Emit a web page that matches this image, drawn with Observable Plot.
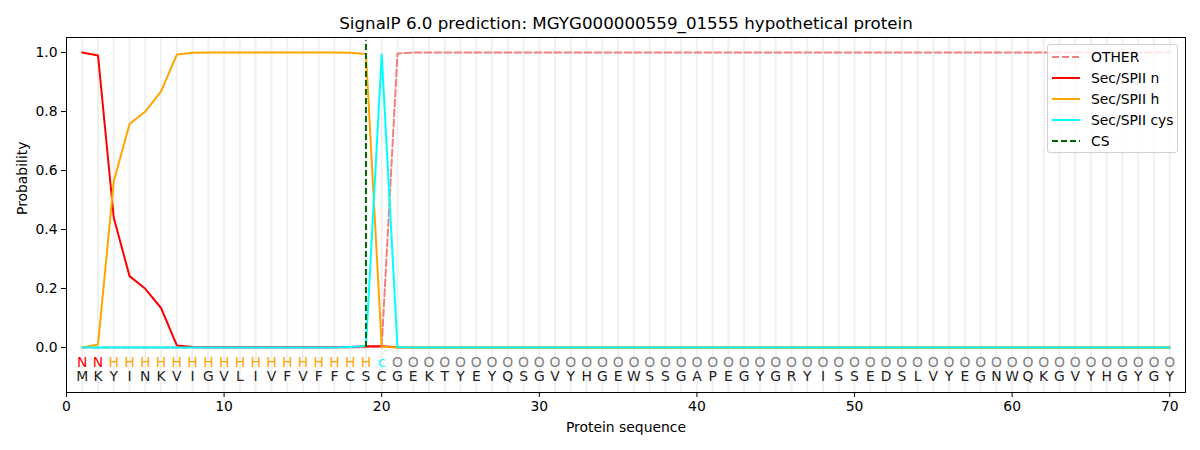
<!DOCTYPE html>
<html>
<head>
<meta charset="utf-8">
<script src="https://cdn.jsdelivr.net/npm/d3@7"></script>
<script src="https://cdn.jsdelivr.net/npm/@observablehq/plot@0.6"></script>
<style>
  body { margin: 0; background: white; }
  #wrap { position: relative; width: 1200px; height: 450px; font-family: "DejaVu Sans", sans-serif; }
  #legend { position: absolute; left: 1047px; top: 44px; width: 129px; height: 107px;
    background: rgba(255,255,255,0.8); border: 1px solid #d0d0d0; border-radius: 3px;
    font-size: 13.9px; color: #000; }
  #legend .row { position: absolute; left: 0; height: 20px; display: flex; align-items: center; }
  #legend svg { margin-left: 4px; }
  #legend span { position: absolute; left: 43px; white-space: nowrap; }
</style>
</head>
<body>
<div id="wrap"><div id="legend"></div></div>
<script>
const titleText = "SignalP 6.0 prediction: MGYG000000559_01555 hypothetical protein";
const sequence = "MKYINKVIGVLIVFVFFCSCGEKTYEYQSGVYHGEWSSGAPEGYGRYISSEDSLVYEGNWQKGVYHGYGY".split("");
const labels = "NNHHHHHHHHHHHHHHHHHcOOOOOOOOOOOOOOOOOOOOOOOOOOOOOOOOOOOOOOOOOOOOOOOOOO".split("");
const xTicks = [0, 10, 20, 30, 40, 50, 60, 70];
const yTicks = [0, 0.2, 0.4, 0.6, 0.8, 1.0];
const csPos = 19;

const other = [
  0,0,0,0,0,0,0,0,0,0,
  0,0,0,0,0,0,0,0,0.001,0.003,
  0.997,1,1,1,1,1,1,1,1,1,
  1,1,1,1,1,1,1,1,1,1,
  1,1,1,1,1,1,1,1,1,1,
  1,1,1,1,1,1,1,1,1,1,
  1,1,1,1,1,1,1,1,1,1
];
const secN = [
  1.0,0.99,0.44,0.242,0.199,0.134,0.007,0.002,0.001,0.001,
  0.001,0.001,0.001,0.001,0.001,0.001,0.001,0.002,0.004,0.004,
  0.001,0,0,0,0,0,0,0,0,0,
  0,0,0,0,0,0,0,0,0,0,
  0,0,0,0,0,0,0,0,0,0,
  0,0,0,0,0,0,0,0,0,0,
  0,0,0,0,0,0,0,0,0,0
];
const secH = [
  0,0.01,0.564,0.758,0.80,0.868,0.993,0.999,1,1,
  1,1,1,1,1,1,1,0.999,0.995,0.003,
  0,0,0,0,0,0,0,0,0,0,
  0,0,0,0,0,0,0,0,0,0,
  0,0,0,0,0,0,0,0,0,0,
  0,0,0,0,0,0,0,0,0,0,
  0,0,0,0,0,0,0,0,0,0
];
const secCys = [
  0,0,0,0,0,0,0,0,0,0,
  0,0,0,0,0,0,0,0.002,0.005,0.993,
  0.002,0,0,0,0,0,0,0,0,0,
  0,0,0,0,0,0,0,0,0,0,
  0,0,0,0,0,0,0,0,0,0,
  0,0,0,0,0,0,0,0,0,0,
  0,0,0,0,0,0,0,0,0,0
];

const seriesNames = ["OTHER", "Sec/SPII n", "Sec/SPII h", "Sec/SPII cys"];
const seriesValues = [other, secN, secH, secCys];
const seriesColors = ["#f08080", "red", "orange", "cyan"];
const seriesDash = ["7,3", null, null, null];
const labelColors = {N: "red", H: "orange", c: "cyan", O: "gray"};

const pos = sequence.map((_, i) => i + 1);
const residues = sequence.map((aa, i) => ({x: i + 1, aa, lab: labels[i]}));

const lineMarks = seriesNames.map((name, k) =>
  Plot.line(pos.map((p, i) => ({x: p, y: seriesValues[k][i]})), {
    x: "x", y: "y", stroke: seriesColors[k], strokeWidth: 2,
    strokeDasharray: seriesDash[k] ?? undefined
  })
);

const chart = Plot.plot({
  width: 1200,
  height: 450,
  marginLeft: 66,
  marginRight: 15,
  marginTop: 37,
  marginBottom: 58,
  style: {fontFamily: "DejaVu Sans, sans-serif", fontSize: "13.9px", background: "white", color: "black"},
  x: {domain: [0, 71]},
  y: {domain: [-0.1525, 1.051]},
  marks: [
    Plot.ruleX(pos, {x: d => d, stroke: "#f0f0f0", strokeWidth: 2}),
    ...lineMarks,
    Plot.ruleX([csPos], {x: d => d, y1: 0, y2: 1.04, stroke: "darkgreen", strokeWidth: 2, strokeDasharray: "6,3"}),
    Plot.text(residues, {x: "x", y: -0.05, text: "lab", fill: d => labelColors[d.lab], fontSize: 13.9}),
    Plot.text(residues, {x: "x", y: -0.1, text: "aa", fill: "#222", fontSize: 13.9}),
    Plot.frame({stroke: "black", strokeWidth: 1}),
    Plot.axisX({ticks: xTicks, tickSize: 5, tickPadding: 4, tickFormat: d => String(d), label: null, fontSize: 13.9}),
    Plot.axisY({ticks: yTicks, tickSize: 5, tickPadding: 4, tickFormat: d => d.toFixed(1), label: null, fontSize: 13.9}),
    Plot.text([titleText], {frameAnchor: "top", dy: -14, text: d => d, fontSize: 16.7, lineAnchor: "middle"}),
    Plot.text(["Protein sequence"], {frameAnchor: "bottom", dy: 35, text: d => d, fontSize: 13.9, lineAnchor: "middle"}),
    Plot.text(["Probability"], {frameAnchor: "left", dx: -44, text: d => d, fontSize: 13.9, rotate: -90, lineAnchor: "middle"})
  ]
});
document.getElementById("wrap").prepend(chart);

// legend
const legend = d3.select("#legend");
const legendItems = [
  ...seriesNames.map((n, k) => ({name: n, color: seriesColors[k], dash: seriesDash[k]})),
  {name: "CS", color: "darkgreen", dash: "6,3"}
];
legendItems.forEach((it, i) => {
  const row = legend.append("div").attr("class", "row").style("top", (2 + i * 21) + "px");
  const svg = row.append("svg").attr("width", 30).attr("height", 20);
  svg.append("line").attr("x1", 0).attr("x2", 28).attr("y1", 10).attr("y2", 10)
    .attr("stroke", it.color).attr("stroke-width", 2)
    .attr("stroke-dasharray", it.dash || null);
  row.append("span").text(it.name);
});
</script>
</body>
</html>
